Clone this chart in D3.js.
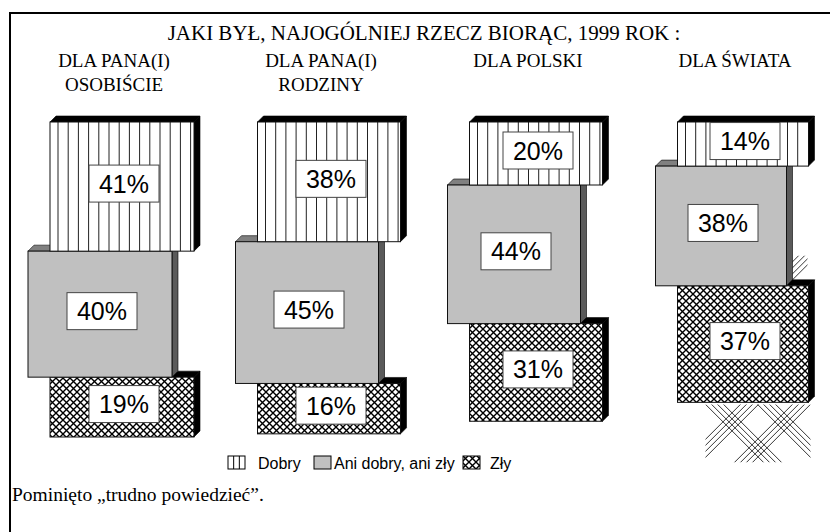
<!DOCTYPE html>
<html lang="pl">
<head>
<meta charset="UTF-8">
<title>Jaki był 1999 rok</title>
<style>
  body { margin: 0; background: #fff; }
  svg { display: block; }
</style>
</head>
<body>
<div id="chart"></div>
<script src="https://d3js.org/d3.v7.min.js"></script>
<script>
// data
const title = "JAKI BYŁ, NAJOGÓLNIEJ RZECZ BIORĄC, 1999 ROK :";
const groups = ["osobiscie", "rodzina", "polska", "swiat"];
const groupLabels = [["DLA PANA(I)", "OSOBIŚCIE"], ["DLA PANA(I)", "RODZINY"], ["DLA POLSKI"], ["DLA ŚWIATA"]];
const series = ["Dobry", "Ani dobry, ani zły", "Zły"];
const dobry = [41, 38, 20, 14];
const ani = [40, 45, 44, 38];
const zly = [19, 16, 31, 37];
const note = "Pominięto „trudno powiedzieć”.";

// layout
const W = 830, H = 532;
const depth = 6;
const boxW = [144, 143, 133, 131];
const shift = [0, -22, 0];

const svg = d3.select("#chart").append("svg")
  .attr("width", W).attr("height", H);

const defs = svg.append("defs");
const cross = defs.append("pattern")
  .attr("id", "cross").attr("width", 7).attr("height", 7)
  .attr("patternUnits", "userSpaceOnUse");
cross.append("rect").attr("width", 7).attr("height", 7).attr("fill", "#fff");
cross.append("path").attr("d", "M-1,-1L8,8M8,-1L-1,8")
  .attr("stroke", "#000").attr("stroke-width", 1.4);

const y = d3.scaleLinear().domain([0, 100]).range([122, 437]);
const x = d3.scalePoint().domain(groups).range([122, 743]);

// frame
svg.append("path").attr("d", `M10,${H}V13H${W}`)
  .attr("fill", "none").attr("stroke", "#000").attr("stroke-width", 2);

svg.append("text")
  .attr("x", 424).attr("y", 40)
  .attr("text-anchor", "middle")
  .attr("font-family", "Liberation Serif, Times New Roman, serif")
  .attr("font-size", 21)
  .text(title);

// column headings
groupLabels.forEach((lines, i) => {
  const t = svg.append("text")
    .attr("text-anchor", "middle")
    .attr("font-family", "Liberation Serif, Times New Roman, serif")
    .attr("font-size", 19);
  lines.forEach((l, j) => {
    t.append("tspan").attr("x", x(groups[i]) - 8).attr("y", 67 + j * 24).text(l);
  });
});

const styles = [
  { front: "#fff", top: "#000", side: "#000" },
  { front: "#c0c0c0", top: "#808080", side: "#5a5a5a" },
  { front: "url(#cross)", top: "#000", side: "#000" }
];

function drawBox(g, x0, y0, w, h, st, si) {
  g.append("path")
    .attr("d", `M${x0},${y0}L${x0 + depth},${y0 - depth}L${x0 + w + depth},${y0 - depth}L${x0 + w},${y0}Z`)
    .attr("fill", st.top).attr("stroke", "#000").attr("stroke-width", 0.6);
  g.append("path")
    .attr("d", `M${x0 + w},${y0}L${x0 + w + depth},${y0 - depth}L${x0 + w + depth},${y0 + h - depth}L${x0 + w},${y0 + h}Z`)
    .attr("fill", st.side).attr("stroke", "#000").attr("stroke-width", 0.6);
  g.append("rect")
    .attr("x", x0).attr("y", y0).attr("width", w).attr("height", h)
    .attr("fill", st.front);
  if (si === 0) {
    g.selectAll(null).data(d3.range(x0 + 8, x0 + w - 1, 10.2)).enter()
      .append("line")
      .attr("x1", d => d).attr("x2", d => d)
      .attr("y1", y0).attr("y2", y0 + h)
      .attr("stroke", "#222").attr("stroke-width", 1);
  }
  g.append("rect")
    .attr("x", x0).attr("y", y0).attr("width", w).attr("height", h)
    .attr("fill", "none").attr("stroke", "#111").attr("stroke-width", 1);
}

function drawLabel(g, cx, cy, v) {
  g.append("rect")
    .attr("x", cx - 35).attr("y", cy - 18.5)
    .attr("width", 70).attr("height", 37)
    .attr("fill", "#fff").attr("stroke", "#444").attr("stroke-width", 1);
  g.append("text")
    .attr("x", cx).attr("y", cy + 9)
    .attr("text-anchor", "middle")
    .attr("font-family", "Liberation Sans, Arial, sans-serif")
    .attr("font-size", 25)
    .text(v + "%");
}

const vals = [dobry, ani, zly];

groups.forEach((gname, i) => {
  const g = svg.append("g");
  const w = boxW[i];
  let cum = 0;
  const boxes = vals.map((arr, si) => {
    const b = {
      si, v: arr[i],
      x0: x(gname) - w / 2 + shift[si],
      y0: y(cum), h: y(cum + arr[i]) - y(cum)
    };
    cum += arr[i];
    return b;
  });
  // bottom box first so the box above covers its top face
  boxes.slice().reverse().forEach(b => drawBox(g, b.x0, b.y0, w, b.h, styles[b.si], b.si));
  boxes.forEach(b => drawLabel(g, b.x0 + w / 2 + 2, b.y0 + b.h / 2 - 3, b.v));

  if (i === groups.length - 1) {
    // stray hatching under the last column
    const zb = boxes[2], ab = boxes[1];
    const rx = zb.x0 + 28, ry = zb.y0 + zb.h + 2, rw = w - 26, rh = 58;
    defs.append("clipPath").attr("id", "hclip").append("rect")
      .attr("x", rx).attr("y", ry).attr("width", rw).attr("height", rh);
    const hg = svg.append("g").attr("clip-path", "url(#hclip)")
      .attr("stroke", "#000").attr("stroke-width", 0.8).attr("fill", "none");
    [0, 1].forEach(k => {
      d3.range(4).forEach(j => {
        const sx = rx + k * 52 + j * 6;
        hg.append("line").attr("x1", sx).attr("y1", ry).attr("x2", sx + 80).attr("y2", ry + 80);
        const ex = rx + rw - k * 52 - j * 6;
        hg.append("line").attr("x1", ex).attr("y1", ry).attr("x2", ex - 80).attr("y2", ry + 80);
      });
    });
    const sx0 = ab.x0 + w + depth, sy0 = ab.y0 + ab.h - 30;
    defs.append("clipPath").attr("id", "hclip2").append("rect")
      .attr("x", sx0).attr("y", sy0).attr("width", 15).attr("height", 30);
    const hg2 = svg.append("g").attr("clip-path", "url(#hclip2)")
      .attr("stroke", "#000").attr("stroke-width", 0.8);
    d3.range(4).forEach(j => {
      const bx = sx0 + j * 6;
      hg2.append("line").attr("x1", bx - 30).attr("y1", sy0 + 36).attr("x2", bx + 10).attr("y2", sy0 - 4);
    });
  }
});

// legend
const legend = svg.append("g").attr("font-family", "Liberation Sans, Arial, sans-serif").attr("font-size", 16);
const legItems = [
  { ix: 228, tx: 258 },
  { ix: 314, tx: 334 },
  { ix: 463, tx: 490 }
];
series.forEach((s, k) => {
  const it = legItems[k];
  const fill = k === 0 ? "#fff" : styles[k].front;
  legend.append("rect").attr("x", it.ix).attr("y", 456).attr("width", 17).attr("height", 13)
    .attr("fill", fill).attr("stroke", "#000").attr("stroke-width", 1);
  if (k === 0) {
    [1, 2].forEach(q => legend.append("line")
      .attr("x1", it.ix + q * 17 / 3).attr("x2", it.ix + q * 17 / 3)
      .attr("y1", 456).attr("y2", 469).attr("stroke", "#000"));
  }
  legend.append("text").attr("x", it.tx).attr("y", 469).text(s);
});

svg.append("text")
  .attr("x", 12).attr("y", 501)
  .attr("font-family", "Liberation Serif, Times New Roman, serif")
  .attr("font-size", 19.5)
  .text(note);
</script>
</body>
</html>
